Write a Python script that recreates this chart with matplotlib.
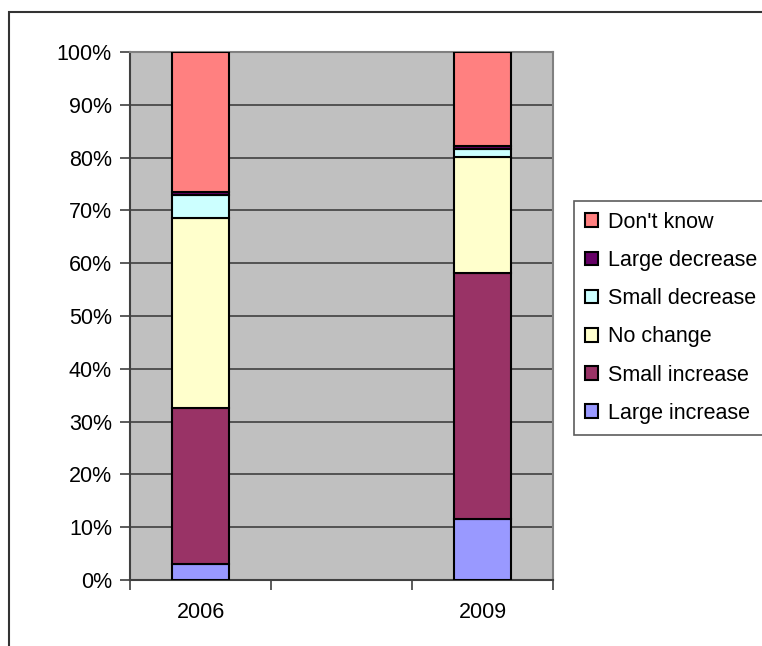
import numpy as np
import matplotlib.pyplot as plt
from matplotlib.patches import Rectangle

plt.rcParams['font.family'] = ['Liberation Sans', 'DejaVu Sans']

# categories on the x axis (the middle slot is left empty)
years = ["2006", "", "2009"]

# shares in percent, bottom to top of each stack
large_increase = [3.1, 0.0, 11.5]
small_increase = [29.5, 0.0, 46.7]
no_change = [36.0, 0.0, 22.0]
small_decrease = [4.4, 0.0, 1.5]
large_decrease = [0.5, 0.0, 0.5]
dont_know = [26.5, 0.0, 17.8]

series = [
    ("Large increase", large_increase, "#9999FF"),
    ("Small increase", small_increase, "#993366"),
    ("No change", no_change, "#FFFFCC"),
    ("Small decrease", small_decrease, "#CCFFFF"),
    ("Large decrease", large_decrease, "#660066"),
    ("Don't know", dont_know, "#FF8080"),
]

fig = plt.figure(figsize=(7.62, 6.46), dpi=100)
ax = fig.add_axes([130 / 762, 1 - 580 / 646, 423 / 762, 528 / 646])
ax.set_facecolor("#C0C0C0")

# chart-area frame
fig.patches.append(Rectangle((9 / 762, -0.1), 1.2, 1 - 12 / 646 + 0.1,
                             transform=fig.transFigure, fill=False,
                             edgecolor="#333333", linewidth=1.5))

x = np.arange(len(years))
bottom = np.zeros(len(years))
handles = []
for name, vals, color in series:
    vals = np.array(vals)
    keep = x != 1
    h = ax.bar(x[keep], vals[keep], bottom=bottom[keep], width=0.4,
               color=color, edgecolor="black", linewidth=1.5, label=name,
               zorder=3)
    handles.append(h)
    bottom += vals

ax.set_xlim(-0.5, 2.5)
ax.set_ylim(0, 100)
ax.set_yticks(np.arange(0, 101, 10))
ax.set_yticklabels([f"{v}%" for v in range(0, 101, 10)], fontsize=15.5)
ax.yaxis.grid(True, color="#404040", linewidth=1.2, zorder=0)
ax.set_axisbelow(True)

# category labels centred, tick marks at the boundaries
ax.set_xticks([-0.5, 0.5, 1.5, 2.5])
ax.set_xticklabels([])
ax.set_xticks(x, minor=True)
ax.set_xticklabels(years, minor=True, fontsize=15.5)
ax.tick_params(axis="x", which="minor", length=0, pad=16)
ax.tick_params(axis="x", which="major", length=7, width=1.2, color="#404040")
ax.tick_params(axis="y", length=7, width=1.2, color="#404040", pad=6)

for side in ["left", "bottom"]:
    ax.spines[side].set_color("#404040")
    ax.spines[side].set_linewidth(1.5)
for side in ["top", "right"]:
    ax.spines[side].set_color("#808080")
    ax.spines[side].set_linewidth(1.5)

leg = fig.legend(handles[::-1], [s[0] for s in series][::-1],
                 loc="upper left", bbox_to_anchor=(574 / 762, 1 - 201 / 646),
                 fontsize=15.5, frameon=True, fancybox=False,
                 edgecolor="#333333", handlelength=0.6, handleheight=0.6,
                 handletextpad=0.5, labelspacing=0.8, borderpad=0.5,
                 borderaxespad=0)
leg.get_frame().set_linewidth(1.2)

fig.savefig("out.png", dpi=100)
